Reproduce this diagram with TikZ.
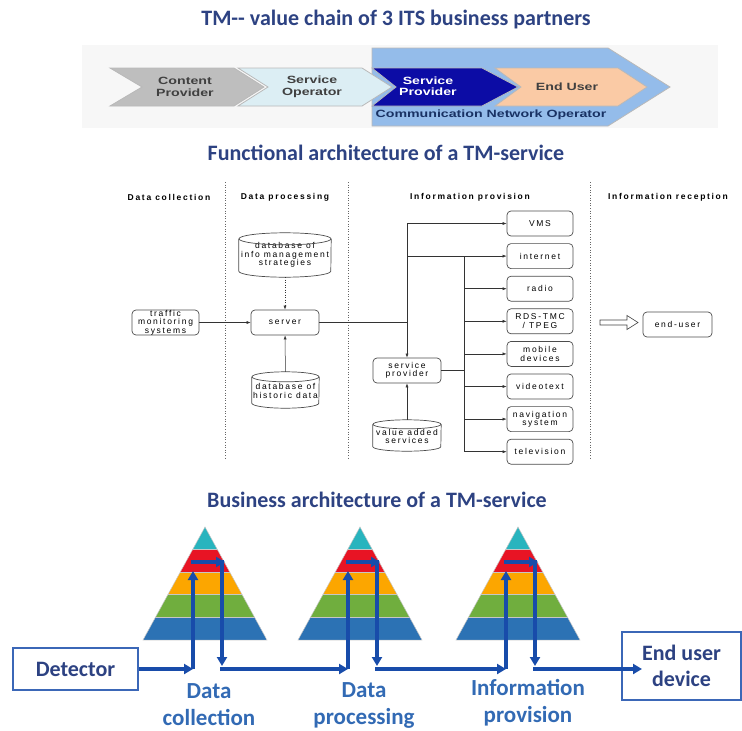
\documentclass[tikz,border=0pt]{standalone}
\usepackage{fontspec}
\setmainfont{Carlito}
\newfontfamily\chevfont[FakeStretch=1.35]{Liberation Sans}
\newfontfamily\archfont[LetterSpace=20]{Liberation Sans}
\usetikzlibrary{arrows.meta, positioning}

\definecolor{titleblue}{RGB}{45,66,130}
\definecolor{labelblue}{RGB}{50,106,180}
\definecolor{flowblue}{RGB}{24,76,170}
\definecolor{cpgray}{RGB}{190,190,190}
\definecolor{socyan}{RGB}{220,238,244}
\definecolor{spnavy}{RGB}{12,12,165}
\definecolor{eupeach}{RGB}{250,202,165}
\definecolor{cnoblue}{RGB}{148,188,234}
\definecolor{cnotext}{RGB}{25,50,100}
\definecolor{pteal}{RGB}{40,180,190}
\definecolor{pred}{RGB}{232,20,36}
\definecolor{porange}{RGB}{252,166,0}
\definecolor{pgreen}{RGB}{112,174,62}
\definecolor{pblue}{RGB}{44,114,180}

\tikzset{
  title/.style={font=\bfseries\fontsize{22}{26}\selectfont, text=titleblue},
  chev/.style={draw=gray!55, line width=0.8pt},
  chevtext/.style={font=\chevfont\bfseries\fontsize{10.5}{11.5}\selectfont, align=center, text=black!75},
  archhead/.style={font=\archfont\bfseries\fontsize{8.5}{9}\selectfont},
  arch/.style={font=\archfont\fontsize{8.5}{8.5}\selectfont, align=center, inner sep=0pt},
  fbox/.style={arch, draw=black!70, rounded corners=4pt, line width=0.7pt},
  dbase/.style={arch},
  dbline/.style={draw=black!70, line width=0.7pt},
  arr/.style={-{Latex[length=4pt,width=3pt]}, line width=0.5pt, black!80},
  sep/.style={dotted, black!60, line width=0.6pt},
  flow/.style={flowblue, line width=3.5pt, -{Triangle[length=9pt,width=10pt]}},
  steptext/.style={font=\bfseries\fontsize{23}{27}\selectfont, text=labelblue, align=center},
  bigbox/.style={draw=flowblue!85, line width=1.4pt, font=\bfseries\fontsize{22}{26}\selectfont,
    text=titleblue, align=center}
}

% cylinder drawn round a database node: #1 node, #2 half width, #3 cap radius
\newcommand\dbdraw[3]{%
  \draw[dbline] ([yshift=-#3]#1.north west) -- ([yshift=#3]#1.south west)
    arc[start angle=180, end angle=360, x radius=#2, y radius=#3]
    -- ([yshift=-#3]#1.north east);
  \draw[dbline] ([yshift=-#3]#1.north) ellipse [x radius=#2, y radius=#3];
}

\begin{document}
\begin{tikzpicture}[x=1pt, y=-1pt]
  \useasboundingbox (0,0) rectangle (742,731);

  % value chain
  \node[title] (t1) at (396,20) {TM{-}{-} value chain of 3 ITS business partners};
  \fill[gray!6] (82,45) rectangle (718,128);
  \draw[chev, fill=cnoblue] (372,48) -- (608,48) -- (670,87) -- (608,126) -- (372,126) -- cycle;
  \draw[chev, fill=spnavy] (372,68) -- (482,68) -- (518,87) -- (482,106) -- (372,106) -- (396,87) -- cycle;
  \draw[chev, fill=cpgray] (110,68) -- (234,68) -- (264,87) -- (234,106) -- (110,106) -- (142,87) -- cycle;
  \draw[chev, fill=socyan] (238,68) -- (362,68) -- (392,87) -- (362,106) -- (238,106) -- (268,87) -- cycle;
  \draw[chev, fill=eupeach] (495,68) -- (618,68) -- (647,87) -- (618,106) -- (495,106) -- (521,87) -- cycle;
  \node[chevtext] (cp) at (185,87) {Content\\Provider};
  \node[chevtext] (so) at (312,87) {Service\\Operator};
  \node[chevtext, text=white] (sp) at (428,86) {Service\\Provider};
  \node[chevtext] (eu) at (567,87) {End User};
  \node[chevtext, text=cnotext] (cno) at (491,115) {Communication Network Operator};

  % functional architecture
  \node[title] (t2) at (386,153) {Functional architecture of a TM-service};
  \draw[sep] (225,182) -- (225,460);
  \draw[sep] (348,182) -- (348,460);
  \draw[sep] (590,182) -- (590,460);
  \node[archhead] (h1) at (169,197) {Data collection};
  \node[archhead] (h2) at (285,197) {Data processing};
  \node[archhead] (h3) at (470,197) {Information provision};
  \node[archhead] (h4) at (668,197) {Information reception};

  \node[fbox, minimum width=67pt, minimum height=25pt] (traffic) at (165.5,322.5) {traffic\\monitoring\\systems};
  \node[fbox, minimum width=68pt, minimum height=25pt] (server) at (285,322.5) {server};
  \node[dbase, minimum width=92pt, minimum height=44pt] (dbinfo) at (285,255) {database of\\info management\\strategies};
  \node[dbase, minimum width=67pt, minimum height=36pt] (dbhist) at (285.5,390) {\\database of\\historic data};
  \dbdraw{dbinfo}{46pt}{6pt}
  \dbdraw{dbhist}{33.5pt}{5pt}

  \node[fbox, minimum width=68pt, minimum height=25pt] (sprov) at (407,370.5) {service\\provider};
  \node[dbase, minimum width=68pt, minimum height=31pt] (vas) at (407,435.5) {\\value added\\services};
  \dbdraw{vas}{34pt}{4.5pt}

  \foreach \name/\txt [count=\i from 0] in {vms/VMS, internet/internet, radio/radio,
      rds/{RDS-TMC\\/ TPEG}, mobile/{mobile\\devices}, videotext/videotext,
      navi/{navigation\\system}, tv/television}
    \node[fbox, minimum width=66pt, minimum height=25pt] (\name) at (540,223.5+32.6*\i) {\txt};

  \node[fbox, minimum width=69pt, minimum height=25pt] (enduser) at (677.5,324.5) {end-user};
  \draw[black!75, line width=0.6pt] (600,320) -- (627,320) -- (627,315.5) -- (638,322.5)
    -- (627,329.5) -- (627,325) -- (600,325) -- cycle;

  \draw[arr] (traffic) -- (server);
  \draw[arr, dotted] (dbinfo) -- (server);
  \draw[arr] (dbhist) -- (server);
  \draw[arr] (vas) -- (sprov);

  \coordinate (busA) at (407,223.5);
  \coordinate (busB) at (464,256.1);
  \draw[black!80, line width=0.5pt] (server) -- (server -| busA);
  \draw[arr] (busA) -- (sprov);
  \draw[arr] (busA) -- (vms);
  \draw[arr] (busA |- internet) -- (internet);
  \draw[black!80, line width=0.5pt] (busB) -- (busB |- tv);
  \draw[black!80, line width=0.5pt] (sprov) -- (sprov -| busB);
  \foreach \n in {radio, rds, mobile, videotext, navi, tv}
    \draw[arr] (busB |- \n) -- (\n);

  % business architecture
  \node[title] (t3) at (377,500) {Business architecture of a TM-service};
  \foreach \ax [count=\p] in {205,360,518} {
    \begin{scope}
      \clip (\ax,527) -- (\ax+62,640) -- (\ax-62,640) -- cycle;
      \fill[pteal] (\ax-62,527) rectangle (\ax+62,549.6);
      \fill[pred] (\ax-62,549.6) rectangle (\ax+62,572.2);
      \fill[porange] (\ax-62,572.2) rectangle (\ax+62,594.8);
      \fill[pgreen] (\ax-62,594.8) rectangle (\ax+62,617.4);
      \fill[pblue] (\ax-62,617.4) rectangle (\ax+62,640);
      \foreach \yy in {549.6,572.2,594.8,617.4}
        \draw[gray!45, line width=0.7pt] (\ax-62,\yy) -- (\ax+62,\yy);
    \end{scope}
    \draw[gray!45, line width=0.5pt] (\ax,527) -- (\ax+62,640) -- (\ax-62,640) -- cycle;
    \coordinate (pin\p) at (\ax-12,669);
    \coordinate (ptop\p) at (\ax-12,571);
    \coordinate (pleft\p) at (\ax-14,562);
    \coordinate (pright\p) at (\ax+20,562);
    \coordinate (pturn\p) at (\ax+17,560);
    \coordinate (pdown\p) at (\ax+17,666);
    \coordinate (pout\p) at (\ax+15,669);
    \draw[flow] (pin\p) -- (ptop\p);
    \draw[flow] (pleft\p) -- (pright\p);
    \draw[flow] (pturn\p) -- (pdown\p);
  }

  \node[bigbox, minimum width=125pt, minimum height=42pt] (detector) at (75.5,669) {Detector};
  \node[bigbox, minimum width=119pt, minimum height=68pt] (device) at (681.5,666) {End user\\device};
  \coordinate (devin) at (642,669);

  \draw[flow] (detector) -- (pin1);
  \draw[flow] (pout1) -- (pin2);
  \draw[flow] (pout2) -- (pin3);
  \draw[flow] (pout3) -- (devin);

  \node[steptext] (s1) at (209,705) {Data\\collection};
  \node[steptext] (s2) at (364,705) {Data\\processing};
  \node[steptext] (s3) at (528,703) {Information\\provision};
\end{tikzpicture}
\end{document}
